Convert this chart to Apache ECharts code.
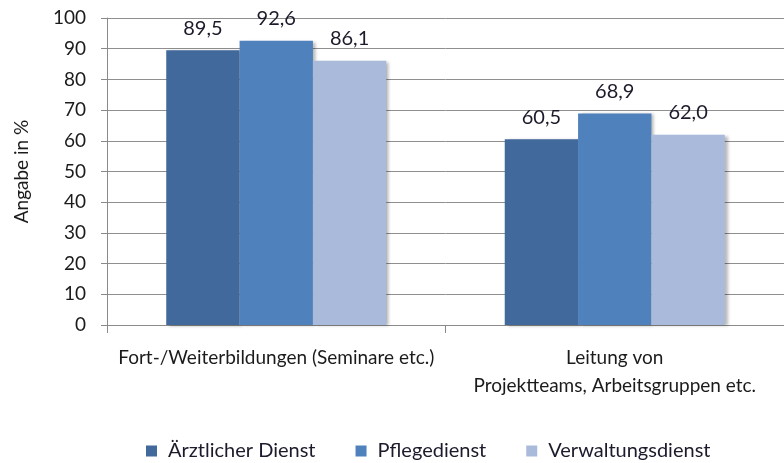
<!DOCTYPE html>
<html><head><meta charset="utf-8">
<script src="https://cdn.jsdelivr.net/npm/echarts@6/dist/echarts.min.js"></script>
<style>html,body{margin:0;padding:0;background:#fff}#c{width:784px;height:463px}</style>
</head><body><div id="c"></div>
<script>
const categories = ["Fort-/Weiterbildungen (Seminare etc.)", "Leitung von\nProjektteams, Arbeitsgruppen etc."];
const seriesNames = ["Ärztlicher Dienst", "Pflegedienst", "Verwaltungsdienst"];
const aerztlich = [89.5, 60.5];
const pflege = [92.6, 68.9];
const verwaltung = [86.1, 62.0];
const yTicks = [0, 100, 10];
const colors = ["#41699B", "#4F81BD", "#A9BADA"];
const FONT = "Lato";

const chart = echarts.init(document.getElementById('c'));
const mk = (name, data, color) => ({
  name, type: 'bar', data, barGap: '0%', barCategoryGap: '35%',
  itemStyle: { color, shadowColor: 'rgba(0,0,0,0.28)', shadowOffsetX: 3, shadowOffsetY: 1, shadowBlur: 3 },
  label: { show: true, position: 'top', distance: 12, fontFamily: FONT, fontSize: 20, color: '#1b1b2b',
    formatter: p => p.value.toFixed(1).replace('.', ',') }
});
chart.setOption({
  animation: false,
  textStyle: { fontFamily: FONT },
  grid: { left: 107, right: -13, top: 18, bottom: 138, containLabel: false },
  legend: { top: 436, left: 141, itemWidth: 11, itemHeight: 11, itemGap: 40, icon: 'rect',
    textStyle: { fontFamily: FONT, fontSize: 20, color: '#1b1b2b', padding: [0,0,0,6] },
    data: seriesNames },
  xAxis: { type: 'category', data: categories,
    axisLine: { lineStyle: { color: '#8a8a8a', width: 1 } },
    axisTick: { show: true, interval: 0, length: 8, lineStyle: { color: '#8a8a8a' } },
    axisLabel: { interval: 0, fontFamily: FONT, fontSize: 19, color: '#1b1b1b', margin: 19, lineHeight: 28 } },
  yAxis: { type: 'value', min: yTicks[0], max: yTicks[1], interval: yTicks[2],
    name: 'Angabe in %', nameLocation: 'middle', nameGap: 76, nameRotate: 90,
    nameTextStyle: { fontFamily: FONT, fontSize: 19, color: '#1b1b1b' },
    axisLine: { show: true, lineStyle: { color: '#8a8a8a' } },
    axisTick: { show: true, length: 6, lineStyle: { color: '#8a8a8a' } },
    axisLabel: { fontFamily: FONT, fontSize: 19, color: '#1b1b1b', margin: 21 },
    splitLine: { lineStyle: { color: '#8f8f8f', width: 1 } } },
  series: [mk(seriesNames[0], aerztlich, colors[0]), mk(seriesNames[1], pflege, colors[1]), mk(seriesNames[2], verwaltung, colors[2])]
});
</script></body></html>
